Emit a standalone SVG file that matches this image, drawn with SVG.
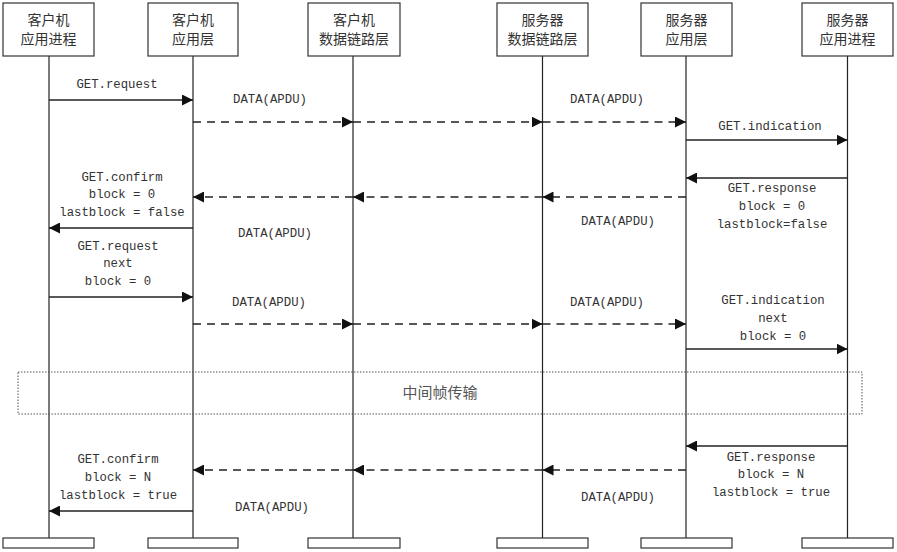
<svg xmlns="http://www.w3.org/2000/svg" width="897" height="552" viewBox="0 0 897 552">
<defs>
<marker id="ah" markerUnits="userSpaceOnUse" markerWidth="11" markerHeight="11" refX="11" refY="5.5" orient="auto">
<path d="M0,0 L11,5.5 L0,11 z" fill="#111" stroke="none"/>
</marker>
<style>
.box{fill:#fff;stroke:#333;stroke-width:1.2}
.life{stroke:#222;stroke-width:1.2;fill:none}
.msg{stroke:#222;stroke-width:1.3;fill:none;marker-end:url(#ah)}
.dash{stroke:#222;stroke-width:1.3;fill:none;stroke-dasharray:8,6;marker-end:url(#ah)}
.hd{font-family:"Noto Sans CJK SC","Noto Sans",sans-serif;font-size:14px;fill:#333;text-anchor:middle}
.lb{font-family:"Liberation Mono","DejaVu Sans Mono",monospace;font-size:12.3px;fill:#333;text-anchor:middle}
.mid{font-family:"Noto Sans CJK SC","Noto Sans",sans-serif;font-size:15px;fill:#555;text-anchor:middle}
</style>
</defs>
<rect width="897" height="552" fill="#fff"/>
<g id="connectors">
<line class="life" x1="49" y1="56" x2="49" y2="538"/>
<line class="life" x1="193" y1="56" x2="193" y2="538"/>
<line class="life" x1="353" y1="56" x2="353" y2="538"/>
<line class="life" x1="542.5" y1="56" x2="542.5" y2="538"/>
<line class="life" x1="686" y1="56" x2="686" y2="538"/>
<line class="life" x1="847.5" y1="56" x2="847.5" y2="538"/>
<line class="msg" x1="49" y1="100" x2="193" y2="100"/>
<line class="dash" x1="193" y1="122" x2="353" y2="122"/>
<line class="dash" x1="353" y1="122" x2="542.5" y2="122"/>
<line class="dash" x1="542.5" y1="122" x2="686" y2="122"/>
<line class="msg" x1="686" y1="140" x2="847.5" y2="140"/>
<line class="msg" x1="847.5" y1="178" x2="686" y2="178"/>
<line class="dash" x1="686" y1="197" x2="542.5" y2="197"/>
<line class="dash" x1="542.5" y1="197" x2="353" y2="197"/>
<line class="dash" x1="353" y1="197" x2="193" y2="197"/>
<line class="msg" x1="193" y1="228" x2="49" y2="228"/>
<line class="msg" x1="49" y1="297" x2="193" y2="297"/>
<line class="dash" x1="193" y1="324" x2="353" y2="324"/>
<line class="dash" x1="353" y1="324" x2="542.5" y2="324"/>
<line class="dash" x1="542.5" y1="324" x2="686" y2="324"/>
<line class="msg" x1="686" y1="349" x2="847.5" y2="349"/>
<line class="msg" x1="847.5" y1="446" x2="686" y2="446"/>
<line class="dash" x1="686" y1="470" x2="542.5" y2="470"/>
<line class="dash" x1="542.5" y1="470" x2="353" y2="470"/>
<line class="dash" x1="353" y1="470" x2="193" y2="470"/>
<line class="msg" x1="193" y1="511" x2="49" y2="511"/>
</g>
<g id="labels">
<text class="lb" x="117" y="88">GET.request</text>
<text class="lb" x="270" y="103">DATA(APDU)</text>
<text class="lb" x="607" y="103">DATA(APDU)</text>
<text class="lb" x="770" y="130">GET.indication</text>
<text class="lb" x="772" y="192">GET.response</text>
<text class="lb" x="772" y="210">block = 0</text>
<text class="lb" x="772" y="228">lastblock=false</text>
<text class="lb" x="618" y="225">DATA(APDU)</text>
<text class="lb" x="275" y="237">DATA(APDU)</text>
<text class="lb" x="122" y="181">GET.confirm</text>
<text class="lb" x="122" y="198">block = 0</text>
<text class="lb" x="122" y="216">lastblock = false</text>
<text class="lb" x="118" y="250">GET.request</text>
<text class="lb" x="118" y="267">next</text>
<text class="lb" x="118" y="285">block = 0</text>
<text class="lb" x="269" y="306">DATA(APDU)</text>
<text class="lb" x="607" y="306">DATA(APDU)</text>
<text class="lb" x="773" y="304">GET.indication</text>
<text class="lb" x="773" y="322">next</text>
<text class="lb" x="773" y="340">block = 0</text>
<text class="lb" x="771" y="461">GET.response</text>
<text class="lb" x="771" y="478">block = N</text>
<text class="lb" x="771" y="496">lastblock = true</text>
<text class="lb" x="618" y="501">DATA(APDU)</text>
<text class="lb" x="272" y="511">DATA(APDU)</text>
<text class="lb" x="118" y="463">GET.confirm</text>
<text class="lb" x="118" y="481">block = N</text>
<text class="lb" x="118" y="499">lastblock = true</text>
</g>
<g id="mid-frame">
<rect x="18" y="372" width="844" height="42" fill="none" stroke="#555" stroke-width="1" stroke-dasharray="1.5,1.5"/>
<text class="mid" x="440" y="398">中间帧传输</text>
</g>
<g id="client-process">
<rect class="box" x="3" y="3" width="91" height="53"/>
<text class="hd" x="48.5" y="25">客户机</text>
<text class="hd" x="48.5" y="44">应用进程</text>
<rect class="box" x="3" y="538" width="91" height="10"/>
</g>
<g id="client-app">
<rect class="box" x="148" y="3" width="90" height="53"/>
<text class="hd" x="193" y="25">客户机</text>
<text class="hd" x="193" y="44">应用层</text>
<rect class="box" x="148" y="538" width="90" height="10"/>
</g>
<g id="client-dl">
<rect class="box" x="308" y="3" width="92" height="53"/>
<text class="hd" x="354" y="25">客户机</text>
<text class="hd" x="354" y="44">数据链路层</text>
<rect class="box" x="308" y="538" width="92" height="10"/>
</g>
<g id="server-dl">
<rect class="box" x="497" y="3" width="91" height="53"/>
<text class="hd" x="542.5" y="25">服务器</text>
<text class="hd" x="542.5" y="44">数据链路层</text>
<rect class="box" x="497" y="538" width="91" height="10"/>
</g>
<g id="server-app">
<rect class="box" x="641" y="3" width="91" height="53"/>
<text class="hd" x="686.5" y="25">服务器</text>
<text class="hd" x="686.5" y="44">应用层</text>
<rect class="box" x="641" y="538" width="91" height="10"/>
</g>
<g id="server-process">
<rect class="box" x="802" y="3" width="91" height="53"/>
<text class="hd" x="847.5" y="25">服务器</text>
<text class="hd" x="847.5" y="44">应用进程</text>
<rect class="box" x="802" y="538" width="91" height="10"/>
</g>
</svg>
